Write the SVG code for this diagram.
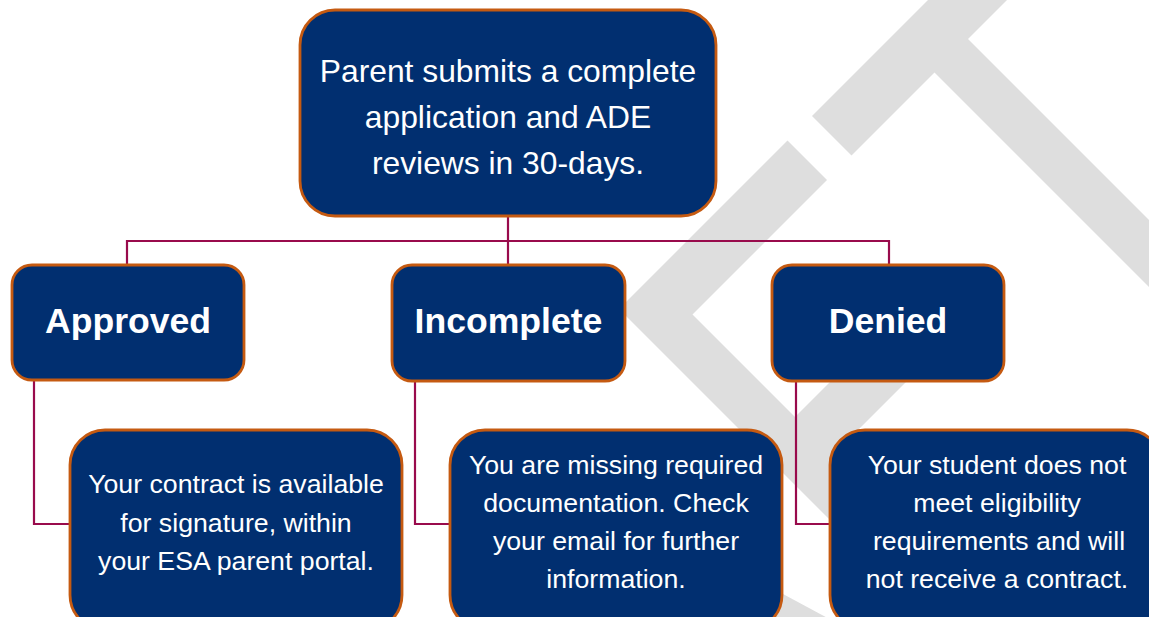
<svg xmlns="http://www.w3.org/2000/svg" width="1149" height="617" viewBox="0 0 1149 617">
<style>
.wm{fill:#DEDEDE;stroke:none}
.box{fill:#012F70;stroke:#C55A11;stroke-width:2.8}
.conn{fill:none;stroke:#990B4C;stroke-width:2.2}
.t{font-family:"Liberation Sans",Arial,sans-serif;fill:#FFFFFF;text-anchor:middle}
.title{font-size:31.8px}
.lbl{font-size:35.6px;font-weight:bold}
.body{font-size:26.7px}
</style>
<rect x="0" y="0" width="1149" height="617" fill="#FFFFFF"/>
<g id="watermark">
<polygon class="wm" points="938,-10 1017,-10 851.5,155.5 812,116"/>
<polygon class="wm" points="964.5,35.5 1175,246 1175,313 931,69"/>
<polygon class="wm" points="787.5,140.5 827,180 692.5,314.5 889,511 855,545 619,309"/>
<polygon class="wm" points="906,306 944,344 799,489 795,417"/>
<polygon class="wm" points="770,587 835,622 770,622"/>
</g>
<g id="connectors">
<path class="conn" d="M508,217 V265 M127,265 V241 H889 V265"/>
<path class="conn" d="M34,381 V524 H70"/>
<path class="conn" d="M415,381 V524 H450"/>
<path class="conn" d="M796,381 V524 H830"/>
</g>
<g id="node-submit">
<rect class="box" x="300" y="10" width="416" height="206" rx="35"/>
<text class="t title" x="508" y="82">Parent submits a complete</text>
<text class="t title" x="508" y="128">application and ADE</text>
<text class="t title" x="508" y="174">reviews in 30-days.</text>
</g>
<g id="node-approved">
<rect class="box" x="12" y="265" width="232" height="115" rx="20"/>
<text class="t lbl" x="128" y="333">Approved</text>
</g>
<g id="node-incomplete">
<rect class="box" x="392" y="265" width="233" height="116" rx="20"/>
<text class="t lbl" x="508.5" y="333">Incomplete</text>
</g>
<g id="node-denied">
<rect class="box" x="772" y="265" width="232" height="116" rx="20"/>
<text class="t lbl" x="888" y="333">Denied</text>
</g>
<g id="node-approved-result">
<rect class="box" x="70" y="430" width="332" height="200" rx="35"/>
<text class="t body" x="236" y="493">Your contract is available</text>
<text class="t body" x="236" y="532">for signature, within</text>
<text class="t body" x="236" y="570">your ESA parent portal.</text>
</g>
<g id="node-incomplete-result">
<rect class="box" x="450" y="430" width="332" height="200" rx="35"/>
<text class="t body" x="616" y="474">You are missing required</text>
<text class="t body" x="616" y="512">documentation. Check</text>
<text class="t body" x="616" y="550">your email for further</text>
<text class="t body" x="616" y="588">information.</text>
</g>
<g id="node-denied-result">
<rect class="box" x="830" y="430" width="332" height="200" rx="35"/>
<text class="t body" x="997" y="474">Your student does not</text>
<text class="t body" x="997" y="512">meet eligibility</text>
<text class="t body" x="999" y="550">requirements and will</text>
<text class="t body" x="997" y="588">not receive a contract.</text>
</g>
</svg>
